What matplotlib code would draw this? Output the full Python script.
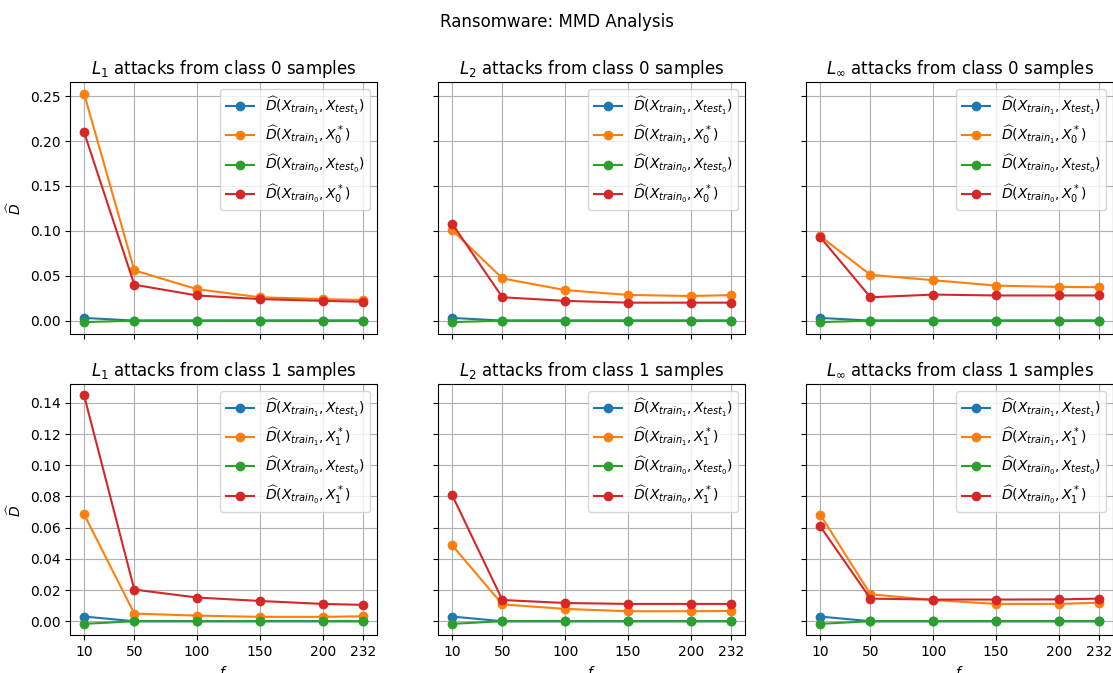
import matplotlib

matplotlib.use("Agg")
import matplotlib.pyplot as plt

# number of features f
features = [10, 50, 100, 150, 200, 232]

# baseline distances (same in every panel)
train1_test1 = [0.003, 0.0, 0.0, 0.0, 0.0, 0.0]
train0_test0 = [-0.0017, 0.0, 0.0, 0.0, 0.0, 0.0]

# class 0 attacks: distance from train_1 / train_0 to adversarial X_0^*
l1_c0_train1 = [0.253, 0.056, 0.035, 0.026, 0.024, 0.023]
l1_c0_train0 = [0.210, 0.040, 0.028, 0.024, 0.022, 0.021]
l2_c0_train1 = [0.101, 0.047, 0.034, 0.0286, 0.0274, 0.0284]
l2_c0_train0 = [0.108, 0.026, 0.022, 0.020, 0.020, 0.020]
linf_c0_train1 = [0.094, 0.051, 0.045, 0.039, 0.0375, 0.0372]
linf_c0_train0 = [0.093, 0.026, 0.029, 0.028, 0.028, 0.028]

# class 1 attacks: distance from train_1 / train_0 to adversarial X_1^*
l1_c1_train1 = [0.0686, 0.0049, 0.0036, 0.0028, 0.0028, 0.0032]
l1_c1_train0 = [0.1449, 0.0203, 0.0152, 0.0130, 0.0111, 0.0105]
l2_c1_train1 = [0.0487, 0.0108, 0.0079, 0.0064, 0.0064, 0.0066]
l2_c1_train0 = [0.0809, 0.0136, 0.0117, 0.0111, 0.0111, 0.0111]
linf_c1_train1 = [0.0684, 0.0173, 0.0136, 0.0111, 0.0111, 0.0119]
linf_c1_train0 = [0.0609, 0.0145, 0.0139, 0.0139, 0.0140, 0.0145]

norms = [r"$L_1$", r"$L_2$", r"$L_\infty$"]
attacks = {
    0: [(l1_c0_train1, l1_c0_train0), (l2_c0_train1, l2_c0_train0), (linf_c0_train1, linf_c0_train0)],
    1: [(l1_c1_train1, l1_c1_train0), (l2_c1_train1, l2_c1_train0), (linf_c1_train1, linf_c1_train0)],
}

fig, axes = plt.subplots(2, 3, figsize=(11.13, 6.73), dpi=100, sharex=True, sharey="row")
# right column runs up to the figure edge, as in the original export
fig.subplots_adjust(left=0.063, right=1.0, bottom=0.056, top=0.878, wspace=0.2, hspace=0.2)
fig.suptitle("Ransomware: MMD Analysis")

for row, cls in enumerate([0, 1]):
    for col, norm in enumerate(norms):
        ax = axes[row, col]
        adv_train1, adv_train0 = attacks[cls][col]
        ax.plot(features, train1_test1, marker="o",
                label=r"$\widehat{D}(X_{train_1}, X_{test_1})$")
        ax.plot(features, adv_train1, marker="o",
                label=r"$\widehat{D}(X_{train_1}, X_{%d}^*)$" % cls)
        ax.plot(features, train0_test0, marker="o",
                label=r"$\widehat{D}(X_{train_0}, X_{test_0})$")
        ax.plot(features, adv_train0, marker="o",
                label=r"$\widehat{D}(X_{train_0}, X_{%d}^*)$" % cls)
        ax.set_title(f"{norm} attacks from class {cls} samples")
        ax.set_xticks(features)
        ax.grid(True)
        ax.legend(loc="upper right")
        if col == 0:
            ax.set_ylabel(r"$\widehat{D}$")
        if row == 1:
            ax.set_xlabel(r"$f$")

fig.savefig("out.png")
